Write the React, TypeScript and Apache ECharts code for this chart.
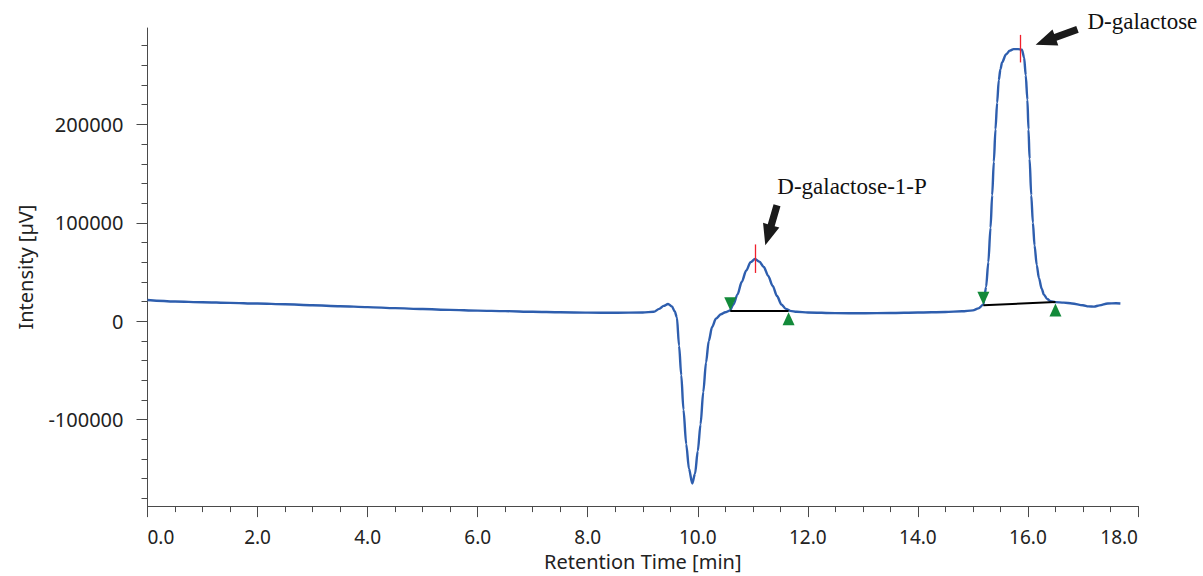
import React, { useEffect, useRef } from "react";
import * as echarts from "echarts";

// Retention time [min] and detector intensity [µV]
const retentionTime = [
  0, 0.5, 1, 1.5, 2, 2.5, 3, 3.5, 4, 4.5, 5, 5.5, 6, 6.5, 7, 7.5, 8, 8.5, 9, 9.2,
  9.3, 9.38, 9.46, 9.53, 9.58, 9.62, 9.66, 9.7, 9.74, 9.79, 9.84, 9.9, 9.95, 10.0,
  10.05, 10.1, 10.15, 10.2, 10.26, 10.33, 10.42, 10.5, 10.58, 10.65, 10.72, 10.8,
  10.88, 10.96, 11.04, 11.12, 11.2, 11.28, 11.36, 11.44, 11.52, 11.6, 11.68, 11.8,
  12, 12.5, 13, 13.5, 14, 14.5, 14.8, 15.0, 15.1, 15.19, 15.24, 15.28, 15.32, 15.35,
  15.38, 15.41, 15.44, 15.47, 15.5, 15.53, 15.6, 15.67, 15.74, 15.82, 15.89, 15.93,
  15.96, 15.99, 16.01, 16.03, 16.06, 16.09, 16.12, 16.16, 16.2, 16.25, 16.29, 16.35,
  16.41, 16.5, 16.65, 16.8, 17.0, 17.1, 17.2, 17.3, 17.45, 17.6, 17.68,
];
const intensity = [
  21500, 20000, 19200, 18600, 17900, 17200, 16200, 15200, 14300, 13200, 12300, 11500,
  10700, 10200, 9500, 9000, 8700, 8500, 8800, 9500,
  12500, 15500, 17500, 15000, 10000, 4000, -25000, -55000, -90000, -125000, -150000,
  -165000, -155000, -132000, -105000, -72000, -42000, -20000, -6000, 2500, 7000, 9000,
  10700, 17000, 27000, 40000, 51500, 60000, 63200, 60500, 55000, 46000, 36000, 25500,
  17000, 12500, 10500, 9500, 8800, 8200, 8000, 8300, 8800, 9300, 10000, 11000, 13000,
  16800, 35000, 60000, 95000, 128000, 162000, 195000, 222000, 245000, 256000, 263000,
  271000, 275000, 276500, 276500, 276000, 268000, 250000, 225000, 195000, 165000,
  128000, 100000, 77000, 57000, 43700, 33000, 27000, 22500, 20200, 19300, 18800, 18000,
  16200, 15000, 14800, 16000, 18000, 18200, 18000,
];

// Axis ticks
const xTickLabels = [0, 2, 4, 6, 8, 10, 12, 14, 16, 18];
const yMajorTicks = [-100000, 0, 100000, 200000];
const yMinorTicks = [
  -180000, -160000, -140000, -120000, -100000, -80000, -60000, -40000, -20000, 0,
  20000, 40000, 60000, 80000, 100000, 120000, 140000, 160000, 180000, 200000, 220000,
  240000, 260000, 280000,
];
const yMin = -188000;
const yMax = 298000;

// Peak integration annotations
const peakLabels = ["D-galactose-1-P", "D-galactose"];
const peakStart = [
  [10.59, 10700],
  [15.19, 16200],
];
const peakEnd = [
  [11.65, 10700],
  [16.5, 19500],
];
const apexMarkTop = [
  [11.045, 78000],
  [15.864, 291000],
];
const apexMarkBottom = [
  [11.045, 49000],
  [15.864, 263000],
];
const arrowTail = [
  [11.44, 117800],
  [16.9, 296500],
];
const arrowTip = [
  [11.227, 77100],
  [16.14, 281100],
];
const labelPos = [
  [11.445, 136700],
  [17.082, 304300],
];

const FONT = '"Noto Sans", sans-serif';
const AXIS = "#4a4a4a";
const RED = "#f0202c";

export default function App() {
  const ref = useRef<HTMLDivElement>(null);

  useEffect(() => {
    document.body.style.margin = "0";
    if (!ref.current) return;
    const chart = echarts.init(ref.current, undefined, { renderer: "svg" });

    const lineData = retentionTime.map((t, i) => [t, intensity[i]]);

    const baselineData = peakStart.map((s, i) => [{ coord: s }, { coord: peakEnd[i] }]);
    const apexData = apexMarkTop.map((a, i) => [{ coord: a }, { coord: apexMarkBottom[i] }]);

    const markPointData: any[] = [];
    peakStart.forEach((s) => {
      markPointData.push({
        coord: s,
        symbol: "triangle",
        symbolSize: [12, 13],
        symbolRotate: 180,
        symbolOffset: [0, -7],
      });
    });
    peakEnd.forEach((e) => {
      markPointData.push({
        coord: e,
        symbol: "triangle",
        symbolSize: [12, 13],
        symbolOffset: [0, 8],
      });
    });

    const arrowData = peakLabels.map((_, i) => [
      arrowTail[i][0],
      arrowTail[i][1],
      arrowTip[i][0],
      arrowTip[i][1],
      labelPos[i][0],
      labelPos[i][1],
    ]);

    const option: any = {
      animation: false,
      backgroundColor: "#fff",
      grid: { left: 147.5, right: 65, top: 28, bottom: 66 },
      xAxis: {
        type: "value",
        min: 0,
        max: 18,
        interval: 2,
        axisLine: { show: true, onZero: false, lineStyle: { color: AXIS, width: 1 } },
        axisTick: { show: true, length: 11, lineStyle: { color: AXIS } },
        minorTick: { show: true, splitNumber: 4, length: 6, lineStyle: { color: AXIS } },
        splitLine: { show: false },
        minorSplitLine: { show: false },
        axisLabel: {
          customValues: xTickLabels,
          formatter: (v: number) => v.toFixed(1),
          fontSize: 19,
          fontFamily: FONT,
          color: "#222",
          margin: 21,
          alignMinLabel: "left",
          alignMaxLabel: "right",
        },
        name: "Retention Time [min]",
        nameLocation: "middle",
        nameGap: 42,
        nameTextStyle: { fontSize: 20, fontFamily: FONT, color: "#222" },
      },
      yAxis: [
        {
          type: "value",
          min: yMin,
          max: yMax,
          position: "left",
          axisLine: { show: true, onZero: false, lineStyle: { color: AXIS, width: 1 } },
          axisTick: { show: true, length: 11, customValues: yMajorTicks, lineStyle: { color: AXIS } },
          axisLabel: {
            customValues: yMajorTicks,
            formatter: (v: number) => String(v),
            fontSize: 20,
            fontFamily: FONT,
            color: "#222",
            margin: 24,
          },
          splitLine: { show: false },
          name: "Intensity [µV]",
          nameLocation: "middle",
          nameGap: 112,
          nameTextStyle: { fontSize: 20, fontFamily: FONT, color: "#222" },
        },
        {
          type: "value",
          min: yMin,
          max: yMax,
          position: "left",
          offset: 0,
          axisLine: { show: false },
          axisTick: { show: true, length: 6, customValues: yMinorTicks, lineStyle: { color: AXIS } },
          axisLabel: { show: false },
          splitLine: { show: false },
        },
      ],
      series: [
        {
          type: "line",
          data: lineData,
          xAxisIndex: 0,
          yAxisIndex: 0,
          symbol: "none",
          smooth: 0.3,
          smoothMonotone: "x",
          lineStyle: { color: "#2e5eae", width: 2.4 },
          silent: true,
          z: 3,
          markLine: {
            silent: true,
            symbol: ["none", "none"],
            label: { show: false },
            lineStyle: { type: "solid", color: "#000", width: 2 },
            animation: false,
            data: baselineData,
          },
          markPoint: {
            silent: true,
            label: { show: false },
            itemStyle: { color: "#138a3a" },
            animation: false,
            data: markPointData,
          },
        },
        {
          type: "line",
          data: [],
          xAxisIndex: 0,
          yAxisIndex: 0,
          symbol: "none",
          silent: true,
          z: 4,
          markLine: {
            silent: true,
            symbol: ["none", "none"],
            label: { show: false },
            lineStyle: { type: "solid", color: RED, width: 1.3 },
            animation: false,
            data: apexData,
          },
        },
        {
          type: "custom",
          coordinateSystem: "cartesian2d",
          xAxisIndex: 0,
          yAxisIndex: 0,
          silent: true,
          clip: false,
          z: 5,
          data: arrowData,
          renderItem: (params: any, api: any) => {
            const i = params.dataIndex;
            const a = api.coord([api.value(0), api.value(1)]);
            const b = api.coord([api.value(2), api.value(3)]);
            const lp = api.coord([api.value(4), api.value(5)]);
            const dx = b[0] - a[0];
            const dy = b[1] - a[1];
            const len = Math.sqrt(dx * dx + dy * dy);
            const ux = dx / len;
            const uy = dy / len;
            const nx = -uy;
            const ny = ux;
            const w = 3.6;
            const hw = 8.5;
            const hl = 21;
            const bx = b[0] - ux * hl;
            const by = b[1] - uy * hl;
            const pts = [
              [a[0] + nx * w, a[1] + ny * w],
              [bx + nx * w, by + ny * w],
              [bx + nx * hw, by + ny * hw],
              [b[0], b[1]],
              [bx - nx * hw, by - ny * hw],
              [bx - nx * w, by - ny * w],
              [a[0] - nx * w, a[1] - ny * w],
            ];
            return {
              type: "group",
              children: [
                { type: "polygon", shape: { points: pts }, style: { fill: "#1a1a1a" } },
                {
                  type: "text",
                  x: lp[0],
                  y: lp[1],
                  style: {
                    text: peakLabels[i],
                    font: '23px "Liberation Serif", serif',
                    fill: "#111",
                    align: "left",
                    verticalAlign: "middle",
                  },
                },
              ],
            };
          },
        },
      ],
    };

    chart.setOption(option);
    return () => {
      chart.dispose();
    };
  }, []);

  return <div ref={ref} style={{ width: 1203, height: 576 }} />;
}
